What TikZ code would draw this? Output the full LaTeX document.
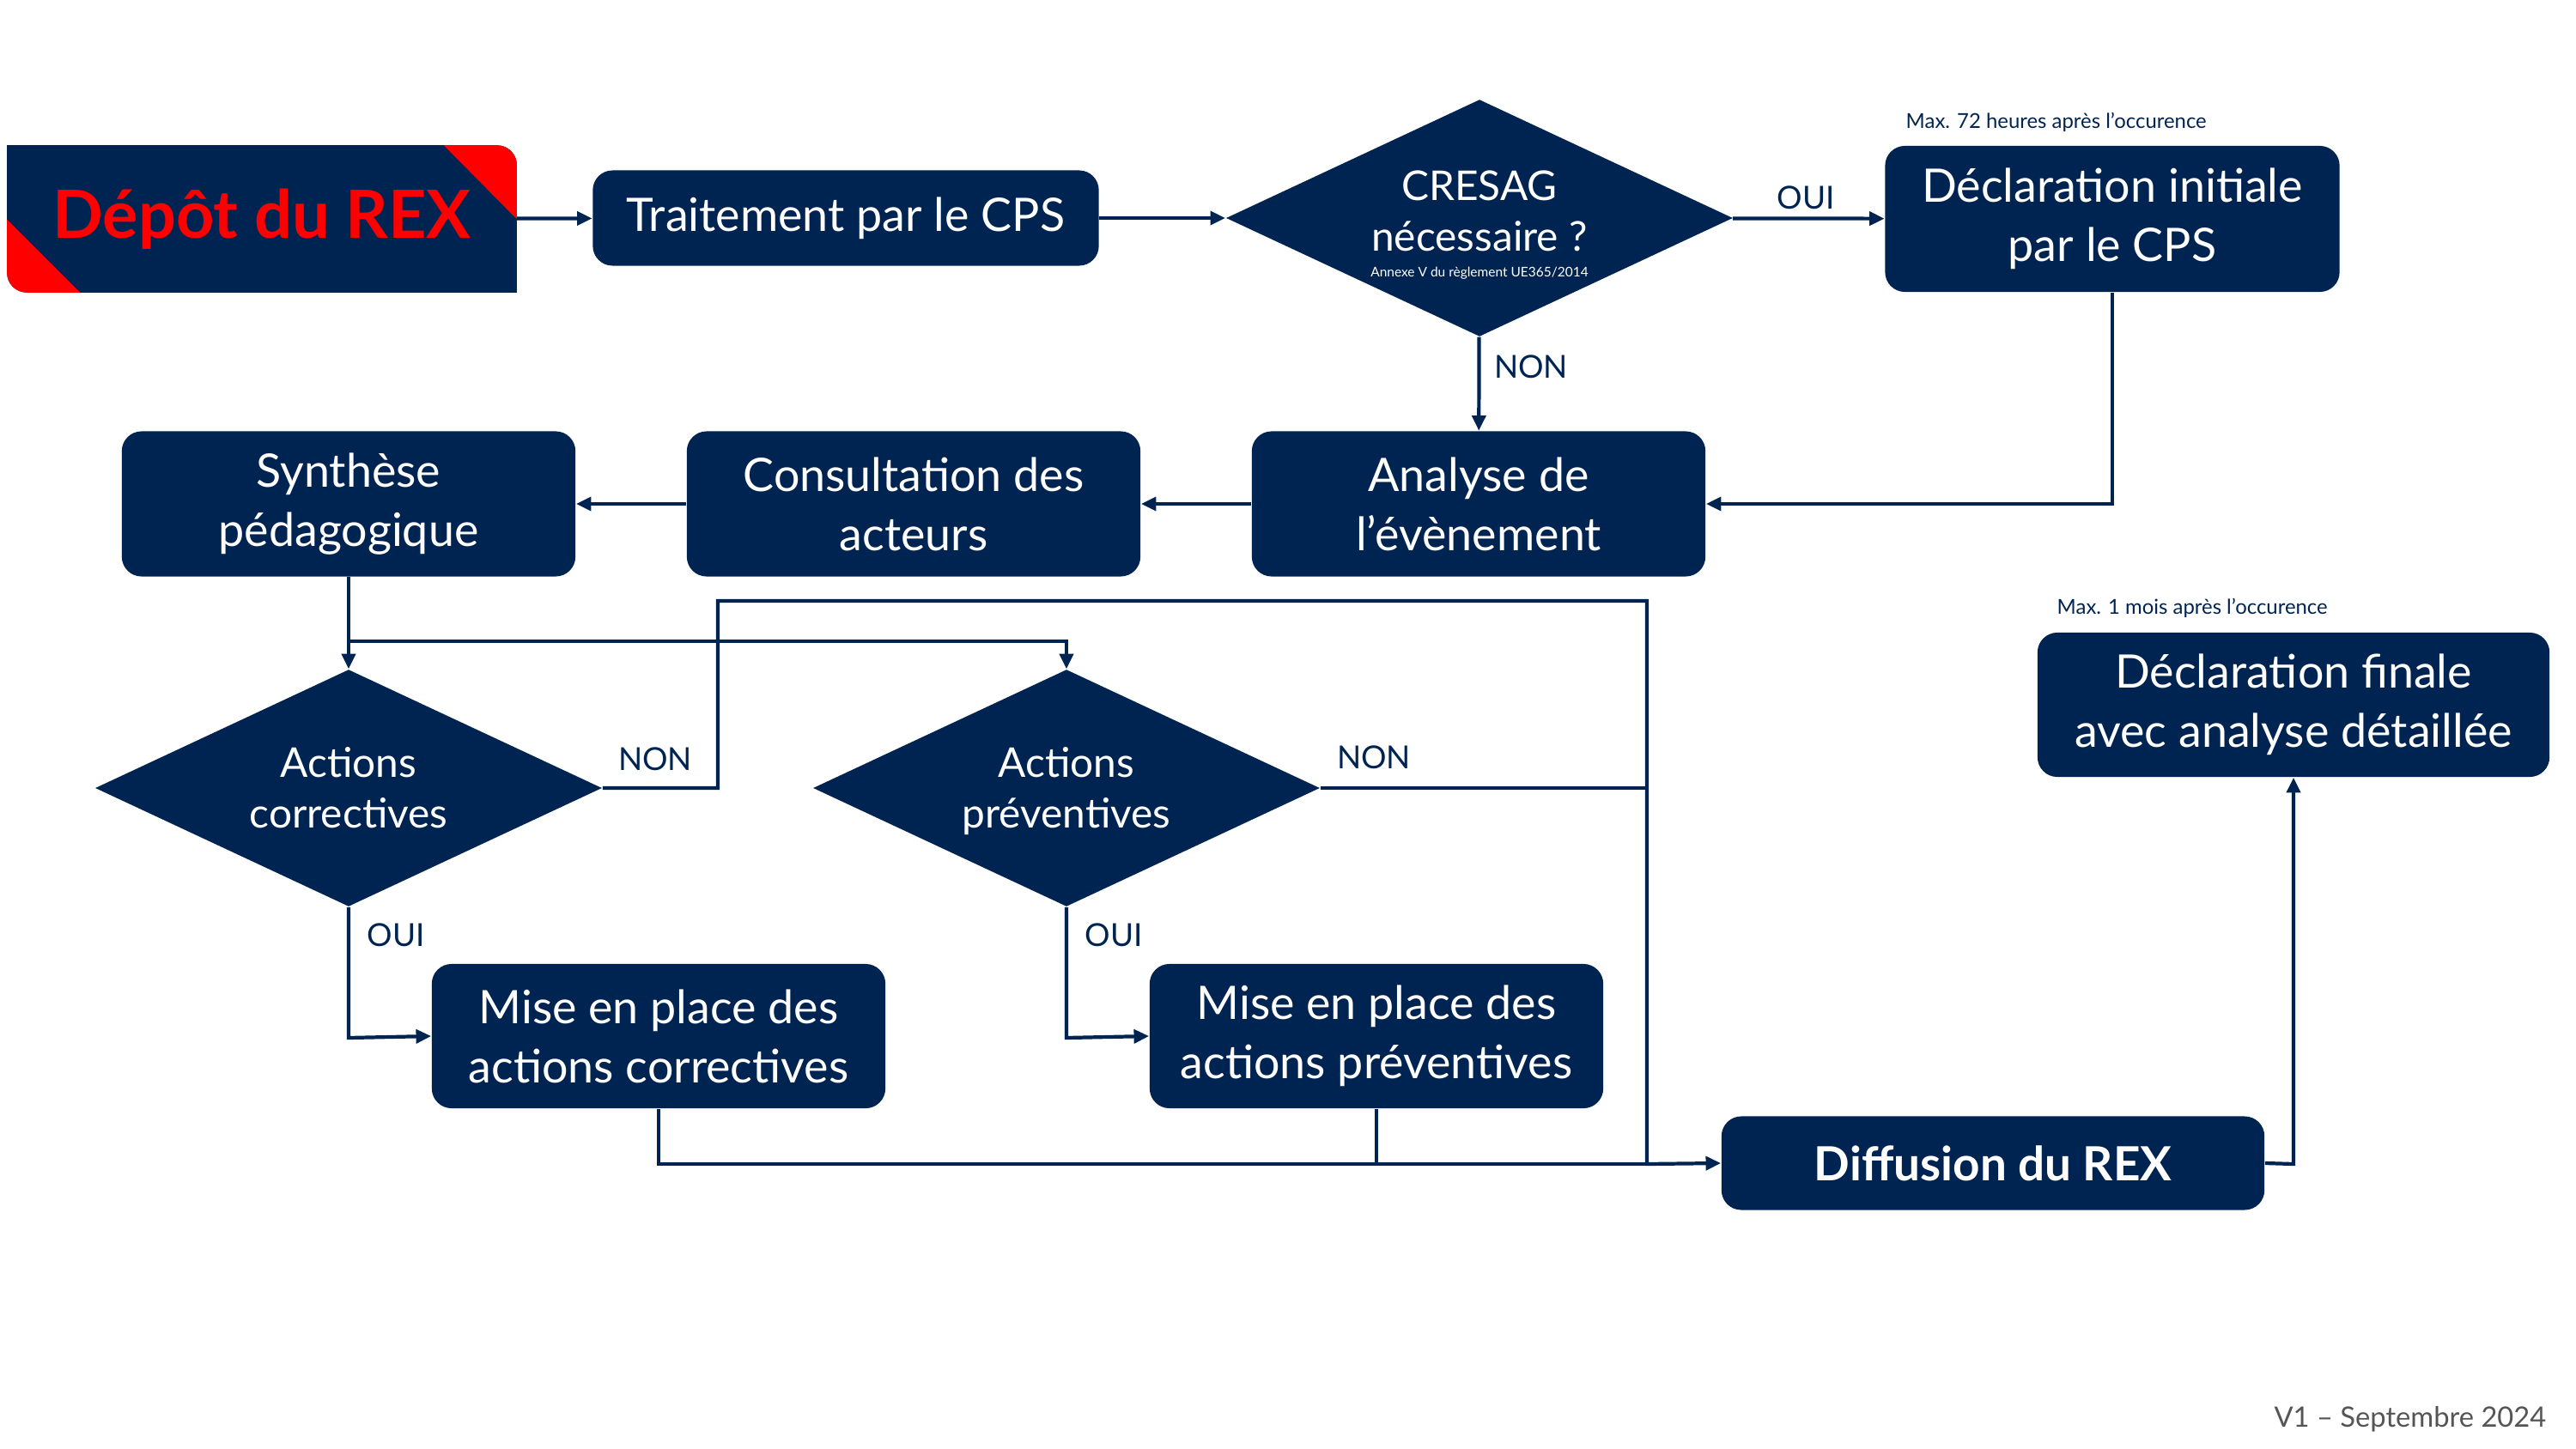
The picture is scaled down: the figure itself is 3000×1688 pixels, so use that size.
\documentclass[tikz,border=0pt]{standalone}
\usepackage{fontspec}
\setmainfont{Lato}
\usetikzlibrary{shapes.geometric,arrows.meta,backgrounds}
\definecolor{navy}{RGB}{0,36,82}
\definecolor{rexred}{RGB}{255,0,0}
\definecolor{vgray}{RGB}{85,85,85}
\tikzset{
  box/.style={rectangle, rounded corners=0.23cm, fill=navy, text=white, align=center,
    font=\fontsize{15.3}{19.6}\selectfont, inner sep=0pt, minimum width=5.28cm, minimum height=1.69cm},
  dia/.style={diamond, fill=navy, inner sep=0pt, minimum width=5.9cm, minimum height=2.76cm},
  diatext/.style={text=white, align=center, inner sep=0pt, font=\fontsize{13.6}{16.8}\selectfont},
  lbl/.style={text=navy, font=\fontsize{10.5}{12}\selectfont, inner sep=0pt},
  note/.style={text=navy, font=\fontsize{6.8}{8}\selectfont, inner sep=0pt, anchor=west},
  conn/.style={draw=navy, line width=1.2pt},
  arr/.style={conn, -{Triangle[length=5pt,width=4.5pt]}}
}
\begin{document}
\begin{tikzpicture}[x=0.01cm, y=-0.01cm]
\useasboundingbox (0,0) rectangle (3000,1688);

% nodes
\node[inner sep=0pt, minimum width=5.92cm, minimum height=1.70cm, text=rexred,
  font=\fontsize{22}{26}\bfseries\selectfont] (depot) at (305,255) {Dépôt du REX};
\node[box, minimum width=5.89cm, minimum height=1.11cm] (trait) at (985,254) {Traitement par le CPS};
\node[dia] (cresag) at (1723,254) {};
\node[diatext] (cresagtxt) at (1723,262) {CRESAG\\nécessaire ?\\[-8.3pt]{\fontsize{4.4}{6}\selectfont Annexe V du règlement UE365/2014}};
\node[box, minimum width=5.29cm, minimum height=1.70cm] (declinit) at (2460,255) {Déclaration initiale\\par le CPS};
\node[box] (analyse) at (1722,587) {Analyse de\\l’évènement};
\node[box] (consult) at (1064,587) {Consultation des\\acteurs};
\node[box] (synth) at (406,587) {Synthèse\\pédagogique};
\node[dia] (cor) at (406,918) {};
\node[diatext] (cortxt) at (406,918) {Actions\\correctives};
\node[dia] (prev) at (1242,918) {};
\node[diatext] (prevtxt) at (1242,922) {Actions\\préventives};
\node[box, minimum height=1.68cm] (misecor) at (767,1207) {Mise en place des\\actions correctives};
\node[box, minimum height=1.68cm] (miseprev) at (1603,1207) {Mise en place des\\actions préventives};
\node[box, minimum width=6.32cm, minimum height=1.09cm, font=\fontsize{15.6}{18}\bfseries\selectfont] (diff) at (2321,1355) {Diffusion du REX};
\node[box, minimum width=5.96cm, minimum height=1.68cm] (declfin) at (2671,821) {Déclaration finale\\avec analyse détaillée};

% Dépôt background
\begin{scope}[on background layer]
  \fill[navy, rounded corners=0.23cm] (depot.north west) rectangle (depot.south east);
  \fill[navy] (depot.north west) rectangle ([xshift=1cm,yshift=-0.8cm]depot.north west);
  \fill[navy] (depot.south east) rectangle ([xshift=-1cm,yshift=0.8cm]depot.south east);
  \begin{scope}
    \clip[rounded corners=0.23cm] (depot.north west) rectangle (depot.south east);
    \fill[rexred] ([xshift=-0.85cm]depot.north east) -- (depot.north east) -- ([yshift=-0.86cm]depot.north east) -- cycle;
    \fill[rexred] ([yshift=0.85cm]depot.south west) -- (depot.south west) -- ([xshift=0.85cm]depot.south west) -- cycle;
  \end{scope}
\end{scope}

% notes
\node[note] (n72) at (2219,142) {Max. 72 heures après l’occurence};
\node[note] (n1m) at (2395,708) {Max. 1 mois après l’occurence};
\node[text=vgray, font=\fontsize{9.3}{11}\selectfont, inner sep=0pt, anchor=east] (ver) at (2966,1653) {V1 – Septembre 2024};

% coordinates
\coordinate (c1) at (2460,587);
\coordinate (j1) at (406,747);
\coordinate (j2) at (1242,747);
\coordinate (n1) at (836,918);
\coordinate (n2) at (836,700);
\coordinate (n3) at (1918,700);
\coordinate (n4) at (1918,918);
\coordinate (n5) at (1918,1356);
\coordinate (o1) at (406,1209);
\coordinate (o2) at (1242,1209);
\coordinate (m1) at (767,1356);
\coordinate (m2) at (1603,1356);
\coordinate (d1) at (2671,1356);

% connectors
\draw[arr] (depot) -- (trait);
\draw[arr] (trait) -- (cresag);
\draw[arr] (cresag) -- (declinit);
\draw[arr] (cresag) -- (analyse);
\draw[arr] (declinit.south) -- (c1) -- (analyse.east);
\draw[arr] (analyse) -- (consult);
\draw[arr] (consult) -- (synth);
\draw[arr] (synth) -- (cor);
\draw[arr] (j1) -- (j2) -- (prev.north);
\draw[arr] (cor.east) -- (n1) -- (n2) -- (n3) -- (n5) -- (diff.west);
\draw[conn] (prev.east) -- (n4);
\draw[arr] (cor.south) -- (o1) -- (misecor.west);
\draw[arr] (prev.south) -- (o2) -- (miseprev.west);
\draw[conn] (misecor.south) -- (m1) -- (m2);
\draw[conn] (miseprev.south) -- (m2) -- (n5);
\draw[arr] (diff.east) -- (d1) -- (declfin.south);

% labels
\node[lbl] (l1) at (2103,230) {OUI};
\node[lbl] (l2) at (1783,427) {NON};
\node[lbl] (l3) at (763,884) {NON};
\node[lbl] (l4) at (1600,882) {NON};
\node[lbl] (l5) at (461,1089) {OUI};
\node[lbl] (l6) at (1297,1089) {OUI};
\end{tikzpicture}
\end{document}
